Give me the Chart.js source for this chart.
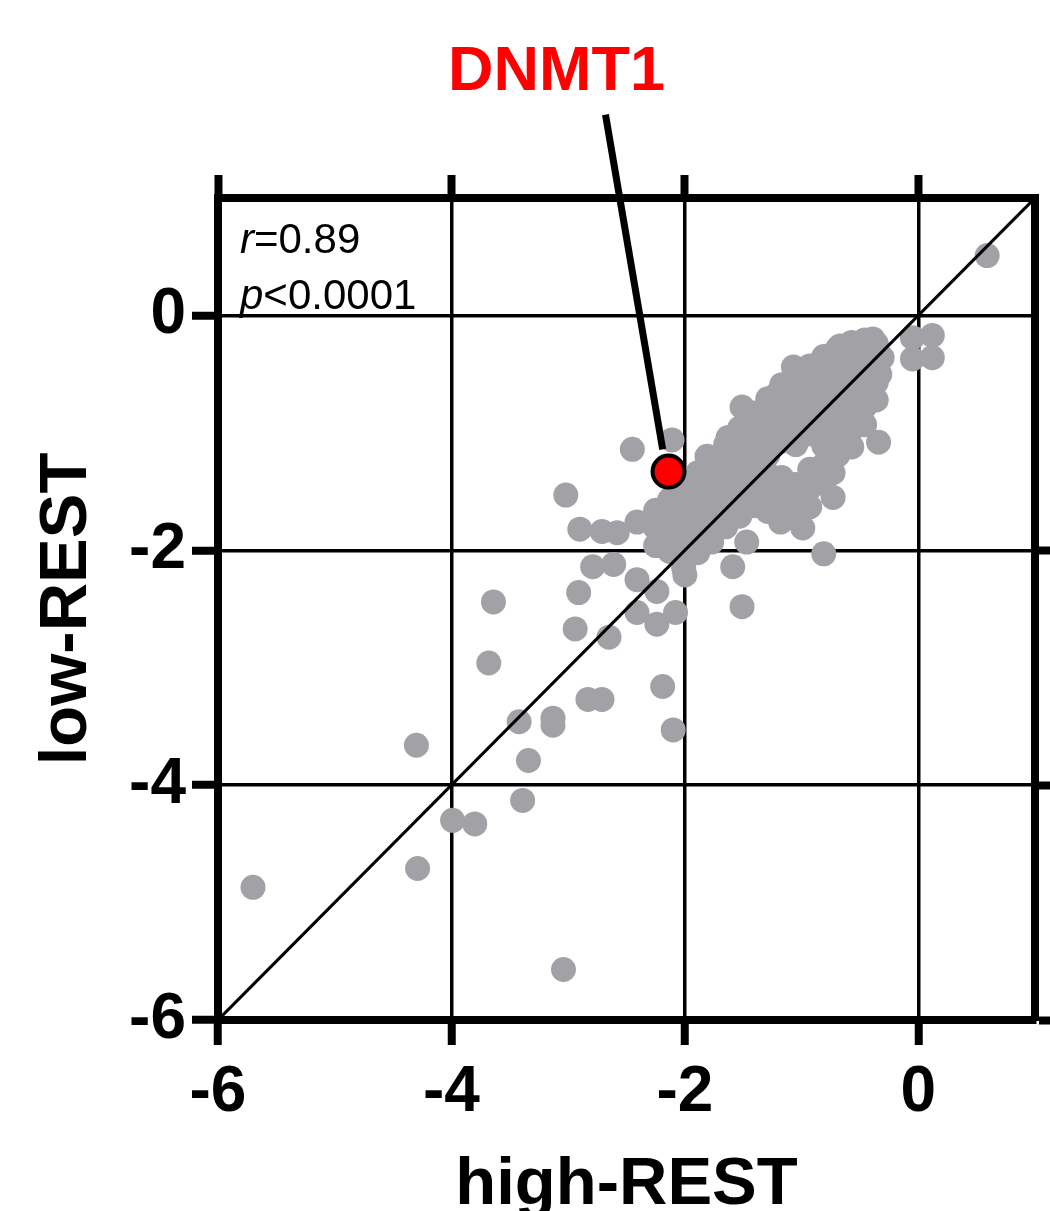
<!DOCTYPE html>
<html>
<head>
<meta charset="utf-8">
<script src="https://cdn.jsdelivr.net/npm/chart.js@4.4.1/dist/chart.umd.min.js"></script>
<style>
  html, body { margin: 0; padding: 0; background: #fff; }
  #wrap { width: 1050px; height: 1211px; position: relative; }
</style>
</head>
<body>
<div id="wrap"><canvas id="scatter"></canvas></div>
<script>
// log2 fold changes (x = high-REST, y = low-REST)
const highRest = [
  0.59, -5.70, -3.04, -4.29, -4.30, -3.99, -3.80, -3.39, -3.34, -3.42,
  -3.13, -3.13, -3.68, -3.64, -3.02, -2.90, -2.71, -2.58, -2.41, -2.27,
  -2.79, -2.61, -2.91, -2.94, -2.65, -2.41, -2.24, -2.00, -2.41, -2.24,
  -2.08, -2.83, -2.71, -2.19, -2.10, -2.45, -2.11, -1.51, -0.81, -1.59,
  -2.01, -1.47, -0.73, -0.73, -0.34, -0.99, -1.18, -1.51, -1.63, -1.81,
  -1.21, -1.07, -0.05, 0.12, -0.05, 0.12, -0.67, -0.39,
  // dense cluster
  -2.25, -2.25, -2.25,
  -2.13, -2.13, -2.13, -2.13,
  -2.01, -2.01, -2.01, -2.01, -2.01,
  -1.89, -1.89, -1.89, -1.89, -1.89, -1.89,
  -1.77, -1.77, -1.77, -1.77, -1.77, -1.77,
  -1.65, -1.65, -1.65, -1.65, -1.65, -1.65,
  -1.53, -1.53, -1.53, -1.53, -1.53, -1.53,
  -1.41, -1.41, -1.41, -1.41, -1.41, -1.41,
  -1.29, -1.29, -1.29, -1.29, -1.29, -1.29, -1.29,
  -1.17, -1.17, -1.17, -1.17, -1.17, -1.17, -1.17,
  -1.05, -1.05, -1.05, -1.05, -1.05, -1.05, -1.05, -1.05,
  -0.93, -0.93, -0.93, -0.93, -0.93, -0.93, -0.93, -0.93,
  -0.81, -0.81, -0.81, -0.81, -0.81, -0.81, -0.81, -0.81,
  -0.69, -0.69, -0.69, -0.69, -0.69, -0.69, -0.69,
  -0.57, -0.57, -0.57, -0.57, -0.57, -0.57, -0.57,
  -0.46, -0.46, -0.46, -0.46, -0.46, -0.46,
  -0.36, -0.36, -0.36, -0.36, -0.33, -0.31
];
const lowRest = [
  0.51, -4.87, -5.57, -4.71, -3.66, -4.30, -4.33, -4.13, -3.79, -3.46,
  -3.43, -3.49, -2.96, -2.44, -1.53, -1.82, -1.84, -1.85, -1.76, -1.76,
  -2.14, -2.12, -2.36, -2.67, -2.74, -2.25, -2.35, -2.21, -2.53, -2.63,
  -2.53, -3.27, -3.27, -3.16, -3.53, -1.14, -1.06, -2.48, -2.03, -2.14,
  -2.15, -1.93, -1.55, -1.34, -1.08, -1.81, -1.76, -0.78, -1.04, -1.20,
  -0.67, -0.44, -0.19, -0.17, -0.37, -0.36, -0.26, -0.20,
  // dense cluster
  -1.66, -1.81, -1.96,
  -1.57, -1.73, -1.87, -2.01,
  -1.47, -1.62, -1.77, -1.91, -2.05,
  -1.34, -1.49, -1.63, -1.76, -1.90, -2.02,
  -1.23, -1.37, -1.52, -1.66, -1.80, -1.93,
  -1.10, -1.24, -1.38, -1.51, -1.65, -1.80,
  -0.96, -1.12, -1.27, -1.42, -1.57, -1.71,
  -0.83, -0.99, -1.15, -1.31, -1.46, -1.62,
  -0.71, -0.87, -1.03, -1.19, -1.35, -1.51, -1.67,
  -0.59, -0.75, -0.91, -1.07, -1.38, -1.53, -1.69,
  -0.52, -0.66, -0.81, -0.97, -1.10, -1.44, -1.59, -1.73,
  -0.43, -0.57, -0.71, -0.87, -1.01, -1.31, -1.47, -1.63,
  -0.35, -0.49, -0.63, -0.79, -0.95, -1.11, -1.27, -1.43,
  -0.28, -0.42, -0.57, -0.71, -0.87, -1.03, -1.19,
  -0.23, -0.37, -0.51, -0.65, -0.81, -0.97, -1.12,
  -0.21, -0.34, -0.48, -0.63, -0.78, -0.93,
  -0.24, -0.41, -0.57, -0.72, -0.50, -0.36
];

const highlightGene = 'DNMT1';
const highlightPoint = { x: -2.14, y: -1.33 };
const labelAnchor = { x: -3.10, y: 1.92 };
const calloutFrom = { x: -2.68, y: 1.71 };
const calloutTo = { x: -2.19, y: -1.14 };
const identityLine = [{ x: -6, y: -6 }, { x: 1, y: 1 }];

const axisTicks = [-6, -4, -2, 0];
const rightTicks = [-6, -4, -2];
const statR = '0.89';
const statP = '<0.0001';

const FONT = "'Liberation Sans', Arial, sans-serif";
const tickFont = { family: FONT, size: 64, weight: 'bold', lineHeight: 1 };
const titleFont = { family: FONT, size: 67, weight: 'bold', lineHeight: 1 };

const annotate = {
    id: 'annotate',
    afterDatasetsDraw(chart) {
        const { ctx, chartArea } = chart;
        const xs = chart.scales.x;
        const ys = chart.scales.y;
        ctx.save();

        // callout line to the highlighted gene
        ctx.strokeStyle = '#000';
        ctx.lineWidth = 7;
        ctx.beginPath();
        ctx.moveTo(xs.getPixelForValue(calloutFrom.x), ys.getPixelForValue(calloutFrom.y));
        ctx.lineTo(xs.getPixelForValue(calloutTo.x), ys.getPixelForValue(calloutTo.y));
        ctx.stroke();

        ctx.fillStyle = '#ff0000';
        ctx.font = `bold 63px ${FONT}`;
        ctx.textAlign = 'center';
        ctx.textBaseline = 'alphabetic';
        ctx.fillText(highlightGene, xs.getPixelForValue(labelAnchor.x), ys.getPixelForValue(labelAnchor.y));

        // stats
        ctx.fillStyle = '#000';
        ctx.textAlign = 'left';
        const sx = chartArea.left + 22;
        const lines = [['r', '=' + statR, chartArea.top + 55], ['p', statP, chartArea.top + 111]];
        lines.forEach(([sym, rest, by]) => {
            ctx.font = `italic 42px ${FONT}`;
            ctx.fillText(sym, sx, by);
            const w = ctx.measureText(sym).width;
            ctx.font = `42px ${FONT}`;
            ctx.fillText(rest, sx + w, by);
        });
        ctx.restore();
    }
};

const points = highRest.map((v, i) => ({ x: v, y: lowRest[i] }));

// fixed box sizes so the plot frame lands where the figure has it
const fixHeight = h => s => { s.height = h; s.paddingLeft = 0; s.paddingRight = 0; };
const fixWidth = w => s => { s.width = w; s.paddingTop = 0; s.paddingBottom = 0; };

const ctx = document.getElementById('scatter').getContext('2d');
new Chart(ctx, {
    type: 'scatter',
    data: {
        datasets: [{
            label: highlightGene,
            data: [highlightPoint],
            pointRadius: 16,
            borderWidth: 4,
            backgroundColor: '#ff0000',
            borderColor: '#000',
            order: 0
        }, {
            label: 'identity',
            data: identityLine,
            showLine: true,
            borderColor: '#000',
            borderWidth: 3,
            pointRadius: 0,
            order: 1
        }, {
            label: 'genes',
            data: points,
            pointRadius: 12.5,
            borderWidth: 0,
            backgroundColor: 'rgb(162, 161, 166)',
            order: 2
        }]
    },
    options: {
        responsive: true,
        maintainAspectRatio: false,
        animation: false,
        layout: { padding: 0, autoPadding: false },
        plugins: {
            legend: { display: false },
            tooltip: { enabled: false }
        },
        scales: {
            x: {
                type: 'linear',
                position: 'bottom',
                min: -6,
                max: 1,
                afterFit: fixHeight(191),
                afterBuildTicks: s => { s.ticks = axisTicks.map(v => ({ value: v })); },
                ticks: { font: tickFont, color: '#000', padding: 16, maxRotation: 0 },
                grid: { color: '#000', lineWidth: 3.5, tickLength: 25, tickWidth: 8, tickColor: '#000' },
                border: { color: '#000', width: 8 },
                title: {
                    display: true,
                    text: 'high-REST',
                    color: '#000',
                    font: titleFont,
                    padding: { top: 0, bottom: -8 }
                }
            },
            x2: {
                type: 'linear',
                position: 'top',
                min: -6,
                max: 1,
                afterFit: fixHeight(198),
                afterBuildTicks: s => { s.ticks = axisTicks.map(v => ({ value: v })); },
                ticks: { display: false },
                grid: { drawOnChartArea: false, tickLength: 23, tickWidth: 8, tickColor: '#000' },
                border: { color: '#000', width: 8 }
            },
            y: {
                type: 'linear',
                position: 'left',
                min: -6,
                max: 1,
                afterFit: fixWidth(218),
                afterBuildTicks: s => { s.ticks = axisTicks.map(v => ({ value: v })); },
                ticks: { font: tickFont, color: '#000', padding: 6 },
                grid: { color: '#000', lineWidth: 3.5, tickLength: 26, tickWidth: 8, tickColor: '#000' },
                border: { color: '#000', width: 8 },
                title: {
                    display: true,
                    text: 'low-REST',
                    color: '#000',
                    font: titleFont,
                    padding: { top: 34, bottom: 0 }
                }
            },
            y2: {
                type: 'linear',
                position: 'right',
                min: -6,
                max: 1,
                afterFit: fixWidth(15),
                afterBuildTicks: s => { s.ticks = rightTicks.map(v => ({ value: v })); },
                ticks: { display: false },
                grid: { drawOnChartArea: false, tickLength: 15, tickWidth: 8, tickColor: '#000' },
                border: { color: '#000', width: 8 }
            }
        }
    },
    plugins: [annotate]
});
</script>
</body>
</html>
